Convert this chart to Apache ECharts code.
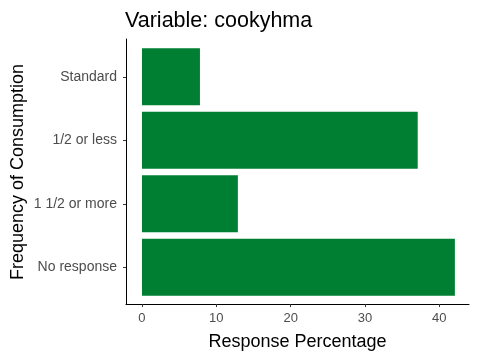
<!DOCTYPE html>
<html>
<head>
<meta charset="utf-8">
<script src="https://cdn.jsdelivr.net/npm/echarts@6/dist/echarts.min.js"></script>
<style>html,body{margin:0;padding:0;background:#fff}#c{width:480px;height:360px}</style>
</head>
<body>
<div id="c"></div>
<script>
var categories = ['No response', '1 1/2 or more', '1/2 or less', 'Standard'];
var values = [42.1, 12.9, 37.1, 7.8];
var xTicks = [0, 10, 20, 30, 40];

var FONT = 'Liberation Sans, Arial, sans-serif';
var chart = echarts.init(document.getElementById('c'), null, {renderer: 'canvas'});
chart.setOption({
  animation: false,
  backgroundColor: '#ffffff',
  textStyle: {fontFamily: FONT},
  title: {
    text: 'Variable: cookyhma',
    left: 120, top: 5,
    textStyle: {fontSize: 21.5, fontWeight: 'normal', color: '#000', fontFamily: FONT}
  },
  grid: [
    {left: 126, right: 11, top: 45, bottom: 61, containLabel: false, outerBoundsMode: 'none'},
    {left: 126, right: 11, top: 39, bottom: 56, containLabel: false, outerBoundsMode: 'none'}
  ],
  xAxis: [
    {
      type: 'value', gridIndex: 0, min: -2.15, max: 44.0, offset: 5,
      splitLine: {show: false},
      axisLine: {show: true, onZero: false, lineStyle: {color: '#000', width: 1}},
      axisTick: {show: true, length: 3, customValues: xTicks, lineStyle: {color: '#333'}},
      axisLabel: {customValues: xTicks, color: '#4d4d4d', fontSize: 13, margin: 8, fontFamily: FONT},
      name: 'Response Percentage', nameLocation: 'middle', nameGap: 29, nameMoveOverlap: false,
      nameTextStyle: {fontSize: 18, color: '#000', fontFamily: FONT}
    },
    {type: 'value', gridIndex: 1, min: 0, max: 1, show: false}
  ],
  yAxis: [
    {
      type: 'category', gridIndex: 0, data: categories,
      axisLine: {show: false, onZero: false},
      axisTick: {show: true, length: 3, alignWithLabel: true, lineStyle: {color: '#333'}},
      axisLabel: {color: '#4d4d4d', fontSize: 14, margin: 9, fontFamily: FONT},
      splitLine: {show: false},
      name: 'Frequency of Consumption', nameLocation: 'middle', nameGap: 99, nameRotate: 90,
      nameMoveOverlap: false,
      nameTextStyle: {fontSize: 18, color: '#000', fontFamily: FONT}
    },
    {
      type: 'value', gridIndex: 1, min: 0, max: 1,
      axisLine: {show: true, onZero: false, lineStyle: {color: '#000', width: 1}},
      axisTick: {show: false}, axisLabel: {show: false}, splitLine: {show: false}
    }
  ],
  series: [{
    type: 'bar', xAxisIndex: 0, yAxisIndex: 0,
    data: values, barWidth: '90%',
    itemStyle: {color: '#007f32'}
  }]
});
</script>
</body>
</html>
